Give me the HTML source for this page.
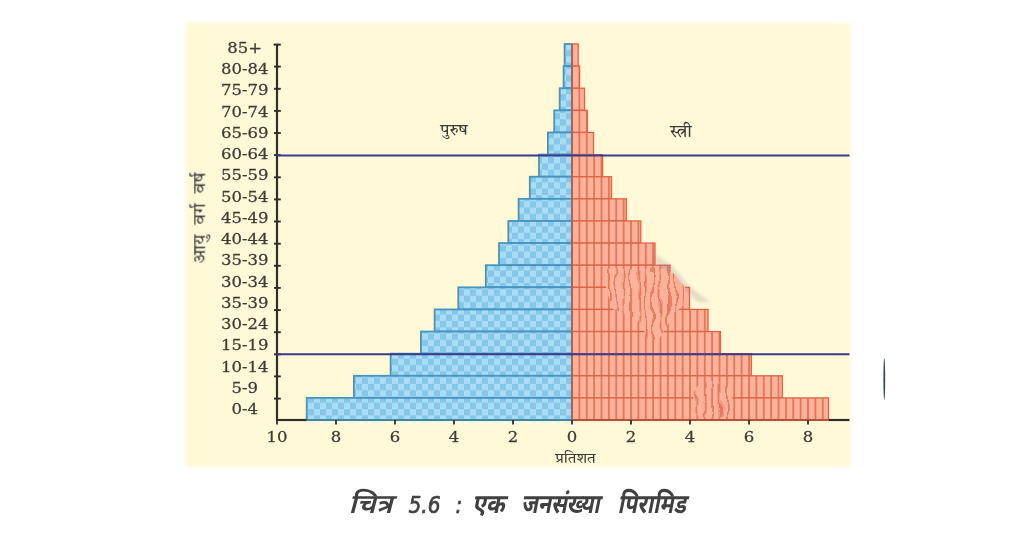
<!DOCTYPE html>
<html lang="hi"><head><meta charset="utf-8"><title>चित्र 5.6 : एक जनसंख्या पिरामिड</title>
<style>
html,body{margin:0;padding:0;background:#fff;}
body{width:1024px;height:538px;overflow:hidden;position:relative;}
svg{position:absolute;left:0;top:0;display:block;}
.num{font-family:"DejaVu Serif","Liberation Serif",serif;font-size:14.6px;fill:#3d3b36;text-anchor:middle;stroke:#3d3b36;stroke-width:0.25px;}
.hi{font-family:"Liberation Serif","Tiro Devanagari Hindi","Noto Serif Devanagari","Lohit Devanagari","Noto Sans Devanagari",serif;fill:#3a3a38;}
.cap{font-family:"Liberation Sans","Noto Sans Devanagari","Lohit Devanagari",sans-serif;fill:#404040;font-style:italic;}
.capd{font-family:"Liberation Sans","Noto Sans Devanagari","Lohit Devanagari",sans-serif;}
.capl{font-family:"DejaVu Sans","Liberation Sans",sans-serif;stroke:#404040;stroke-width:0.7px;}
</style></head><body>
<svg width="1024" height="538" viewBox="0 0 1024 538">
<defs>
<pattern id="chk" x="572" y="43.7" width="12" height="12.6" patternUnits="userSpaceOnUse">
<rect width="12" height="12.6" fill="#a9dcf7"/>
<rect x="0" y="0" width="6" height="6.3" fill="#86c6e6"/>
<rect x="6" y="6.3" width="6" height="6.3" fill="#86c6e6"/>
</pattern>
<pattern id="str" x="572" y="0" width="7.375" height="40" patternUnits="userSpaceOnUse">
<rect width="7.375" height="40" fill="#fbb29a"/>
<rect x="-0.7" y="0" width="1.4" height="40" fill="#dd6446"/>
<rect x="6.675" y="0" width="1.4" height="40" fill="#dd6446"/>
</pattern>
<filter id="soft" x="-5%" y="-5%" width="110%" height="110%"><feGaussianBlur stdDeviation="0.55"/></filter>
<filter id="soft2" x="-5%" y="-5%" width="110%" height="110%"><feGaussianBlur stdDeviation="1.7"/></filter>
<filter id="wob" x="-10%" y="-10%" width="120%" height="120%"><feTurbulence type="fractalNoise" baseFrequency="0.09 0.045" numOctaves="2" seed="3" result="n"/><feDisplacementMap in="SourceGraphic" in2="n" scale="10" xChannelSelector="R" yChannelSelector="G"/><feGaussianBlur stdDeviation="0.5"/></filter>
<clipPath id="b1"><path d="M603.4,269 L624.6,267.9 L638,271.3 L653.7,266.8 L673.8,273.5 L684.9,286.9 L683.8,304.7 L673.8,313.7 L664.8,329.3 L658.1,340.4 L647,338.2 L642.5,324.8 L631.3,315.9 L613.5,309.2 L606.8,291.3 Z"/></clipPath>
<clipPath id="b2"><path d="M694,392 L700,383 L712,381 L722,384 L731,390 L733,404 L729,416 L716,418 L700,417 L692,410 Z"/></clipPath>
</defs>
<rect x="185.2" y="22.6" width="665.2" height="444.2" fill="#fff9d8" filter="url(#soft2)"/>
<g filter="url(#soft)">

<rect x="564.6" y="44.00" width="7.4" height="22.12" fill="url(#chk)" stroke="#4595be" stroke-width="1.8"/>
<rect x="563.6" y="66.12" width="8.4" height="22.12" fill="url(#chk)" stroke="#4595be" stroke-width="1.8"/>
<rect x="559.7" y="88.24" width="12.3" height="22.12" fill="url(#chk)" stroke="#4595be" stroke-width="1.8"/>
<rect x="554.2" y="110.36" width="17.8" height="22.12" fill="url(#chk)" stroke="#4595be" stroke-width="1.8"/>
<rect x="547.9" y="132.48" width="24.1" height="22.12" fill="url(#chk)" stroke="#4595be" stroke-width="1.8"/>
<rect x="539.0" y="154.60" width="33.0" height="22.12" fill="url(#chk)" stroke="#4595be" stroke-width="1.8"/>
<rect x="529.8" y="176.72" width="42.2" height="22.12" fill="url(#chk)" stroke="#4595be" stroke-width="1.8"/>
<rect x="518.6" y="198.84" width="53.4" height="22.12" fill="url(#chk)" stroke="#4595be" stroke-width="1.8"/>
<rect x="508.3" y="220.96" width="63.7" height="22.12" fill="url(#chk)" stroke="#4595be" stroke-width="1.8"/>
<rect x="499.0" y="243.08" width="73.0" height="22.12" fill="url(#chk)" stroke="#4595be" stroke-width="1.8"/>
<rect x="485.8" y="265.20" width="86.2" height="22.12" fill="url(#chk)" stroke="#4595be" stroke-width="1.8"/>
<rect x="458.3" y="287.32" width="113.7" height="22.12" fill="url(#chk)" stroke="#4595be" stroke-width="1.8"/>
<rect x="434.6" y="309.44" width="137.4" height="22.12" fill="url(#chk)" stroke="#4595be" stroke-width="1.8"/>
<rect x="420.9" y="331.56" width="151.1" height="22.12" fill="url(#chk)" stroke="#4595be" stroke-width="1.8"/>
<rect x="390.6" y="353.68" width="181.4" height="22.12" fill="url(#chk)" stroke="#4595be" stroke-width="1.8"/>
<rect x="353.9" y="375.80" width="218.1" height="22.12" fill="url(#chk)" stroke="#4595be" stroke-width="1.8"/>
<rect x="306.7" y="397.92" width="265.3" height="22.12" fill="url(#chk)" stroke="#4595be" stroke-width="1.8"/>
<rect x="572" y="44.00" width="6.2" height="22.12" fill="url(#str)" stroke="#dc6446" stroke-width="1.3"/>
<rect x="572" y="66.12" width="7.6" height="22.12" fill="url(#str)" stroke="#dc6446" stroke-width="1.3"/>
<rect x="572" y="88.24" width="12.5" height="22.12" fill="url(#str)" stroke="#dc6446" stroke-width="1.3"/>
<rect x="572" y="110.36" width="15.4" height="22.12" fill="url(#str)" stroke="#dc6446" stroke-width="1.3"/>
<rect x="572" y="132.48" width="21.5" height="22.12" fill="url(#str)" stroke="#dc6446" stroke-width="1.3"/>
<rect x="572" y="154.60" width="30.6" height="22.12" fill="url(#str)" stroke="#dc6446" stroke-width="1.3"/>
<rect x="572" y="176.72" width="39.5" height="22.12" fill="url(#str)" stroke="#dc6446" stroke-width="1.3"/>
<rect x="572" y="198.84" width="54.3" height="22.12" fill="url(#str)" stroke="#dc6446" stroke-width="1.3"/>
<rect x="572" y="220.96" width="68.8" height="22.12" fill="url(#str)" stroke="#dc6446" stroke-width="1.3"/>
<rect x="572" y="243.08" width="83.0" height="22.12" fill="url(#str)" stroke="#dc6446" stroke-width="1.3"/>
<rect x="572" y="265.20" width="98.0" height="22.12" fill="url(#str)" stroke="#dc6446" stroke-width="1.3"/>
<rect x="572" y="287.32" width="117.5" height="22.12" fill="url(#str)" stroke="#dc6446" stroke-width="1.3"/>
<rect x="572" y="309.44" width="136.0" height="22.12" fill="url(#str)" stroke="#dc6446" stroke-width="1.3"/>
<rect x="572" y="331.56" width="148.4" height="22.12" fill="url(#str)" stroke="#dc6446" stroke-width="1.3"/>
<rect x="572" y="353.68" width="179.3" height="22.12" fill="url(#str)" stroke="#dc6446" stroke-width="1.3"/>
<rect x="572" y="375.80" width="210.3" height="22.12" fill="url(#str)" stroke="#dc6446" stroke-width="1.3"/>
<rect x="572" y="397.92" width="256.5" height="22.12" fill="url(#str)" stroke="#dc6446" stroke-width="1.3"/>
<polygon points="655,254 672,266 691,288 710,302 698,302 687,292 668,272 655,264" fill="#8a8a8a" opacity="0.25" filter="url(#soft2)"/>
<g clip-path="url(#b1)"><rect x="598" y="262" width="92" height="84" fill="#fbb9a3"/><rect x="590" y="255" width="110" height="100" fill="url(#str)" opacity="0.95" filter="url(#wob)"/></g>
<g clip-path="url(#b2)"><rect x="688" y="378" width="50" height="44" fill="#fbb9a3"/><rect x="680" y="370" width="66" height="60" fill="url(#str)" opacity="0.95" filter="url(#wob)"/></g>
<line x1="572" y1="44.0" x2="572" y2="420.0" stroke="#c9583f" stroke-width="2"/>
<line x1="277" y1="44" x2="277" y2="421.0" stroke="#2e2e2c" stroke-width="2.2"/>
<line x1="273.6" y1="44.6" x2="280.8" y2="44.6" stroke="#2e2e2c" stroke-width="2"/>
<line x1="276" y1="420.0" x2="306.7" y2="420.0" stroke="#2e2e2c" stroke-width="2.2"/>
<line x1="828.5" y1="420.0" x2="849.5" y2="420.0" stroke="#2e2e2c" stroke-width="2.2"/>
<line x1="306.7" y1="420.0" x2="572" y2="420.0" stroke="#3f86a8" stroke-width="2.2"/>
<line x1="572" y1="420.0" x2="828.5" y2="420.0" stroke="#b85038" stroke-width="2.2"/>
<line x1="274" y1="66.6" x2="280.8" y2="66.6" stroke="#2e2e2c" stroke-width="1.9"/>
<line x1="274" y1="88.8" x2="280.8" y2="88.8" stroke="#2e2e2c" stroke-width="1.9"/>
<line x1="274" y1="110.9" x2="280.8" y2="110.9" stroke="#2e2e2c" stroke-width="1.9"/>
<line x1="274" y1="133.0" x2="280.8" y2="133.0" stroke="#2e2e2c" stroke-width="1.9"/>
<line x1="274" y1="155.1" x2="280.8" y2="155.1" stroke="#2e2e2c" stroke-width="1.9"/>
<line x1="274" y1="177.3" x2="280.8" y2="177.3" stroke="#2e2e2c" stroke-width="1.9"/>
<line x1="274" y1="199.4" x2="280.8" y2="199.4" stroke="#2e2e2c" stroke-width="1.9"/>
<line x1="274" y1="221.5" x2="280.8" y2="221.5" stroke="#2e2e2c" stroke-width="1.9"/>
<line x1="274" y1="243.7" x2="280.8" y2="243.7" stroke="#2e2e2c" stroke-width="1.9"/>
<line x1="274" y1="265.8" x2="280.8" y2="265.8" stroke="#2e2e2c" stroke-width="1.9"/>
<line x1="274" y1="287.9" x2="280.8" y2="287.9" stroke="#2e2e2c" stroke-width="1.9"/>
<line x1="274" y1="310.1" x2="280.8" y2="310.1" stroke="#2e2e2c" stroke-width="1.9"/>
<line x1="274" y1="332.2" x2="280.8" y2="332.2" stroke="#2e2e2c" stroke-width="1.9"/>
<line x1="274" y1="354.3" x2="280.8" y2="354.3" stroke="#2e2e2c" stroke-width="1.9"/>
<line x1="274" y1="376.4" x2="280.8" y2="376.4" stroke="#2e2e2c" stroke-width="1.9"/>
<line x1="274" y1="398.6" x2="280.8" y2="398.6" stroke="#2e2e2c" stroke-width="1.9"/>
<line x1="277.0" y1="420.0" x2="277.0" y2="424.5" stroke="#2e2e2c" stroke-width="1.8"/>
<line x1="336.0" y1="420.0" x2="336.0" y2="424.5" stroke="#2e2e2c" stroke-width="1.8"/>
<line x1="395.0" y1="420.0" x2="395.0" y2="424.5" stroke="#2e2e2c" stroke-width="1.8"/>
<line x1="454.0" y1="420.0" x2="454.0" y2="424.5" stroke="#2e2e2c" stroke-width="1.8"/>
<line x1="513.0" y1="420.0" x2="513.0" y2="424.5" stroke="#2e2e2c" stroke-width="1.8"/>
<line x1="572.0" y1="420.0" x2="572.0" y2="424.5" stroke="#2e2e2c" stroke-width="1.8"/>
<line x1="631.0" y1="420.0" x2="631.0" y2="424.5" stroke="#2e2e2c" stroke-width="1.8"/>
<line x1="690.0" y1="420.0" x2="690.0" y2="424.5" stroke="#2e2e2c" stroke-width="1.8"/>
<line x1="749.0" y1="420.0" x2="749.0" y2="424.5" stroke="#2e2e2c" stroke-width="1.8"/>
<line x1="808.0" y1="420.0" x2="808.0" y2="424.5" stroke="#2e2e2c" stroke-width="1.8"/>
<line x1="277" y1="155.4" x2="849.5" y2="155.4" stroke="#3a3a8e" stroke-width="2"/>
<line x1="277" y1="354.3" x2="849.5" y2="354.3" stroke="#3a3a8e" stroke-width="2"/>
<text class="num" transform="translate(244.7,52.8) scale(1.13,1)">85+</text>
<text class="num" transform="translate(244.7,74.1) scale(1.13,1)">80-84</text>
<text class="num" transform="translate(244.7,95.3) scale(1.13,1)">75-79</text>
<text class="num" transform="translate(244.7,116.6) scale(1.13,1)">70-74</text>
<text class="num" transform="translate(244.7,137.8) scale(1.13,1)">65-69</text>
<text class="num" transform="translate(244.7,159.1) scale(1.13,1)">60-64</text>
<text class="num" transform="translate(244.7,180.4) scale(1.13,1)">55-59</text>
<text class="num" transform="translate(244.7,201.6) scale(1.13,1)">50-54</text>
<text class="num" transform="translate(244.7,222.9) scale(1.13,1)">45-49</text>
<text class="num" transform="translate(244.7,244.1) scale(1.13,1)">40-44</text>
<text class="num" transform="translate(244.7,265.4) scale(1.13,1)">35-39</text>
<text class="num" transform="translate(244.7,286.7) scale(1.13,1)">30-34</text>
<text class="num" transform="translate(244.7,307.9) scale(1.13,1)">35-39</text>
<text class="num" transform="translate(244.7,329.2) scale(1.13,1)">30-24</text>
<text class="num" transform="translate(244.7,350.4) scale(1.13,1)">15-19</text>
<text class="num" transform="translate(244.7,371.7) scale(1.13,1)">10-14</text>
<text class="num" transform="translate(244.7,393.0) scale(1.13,1)">5-9</text>
<text class="num" transform="translate(244.7,414.2) scale(1.13,1)">0-4</text>
<text class="num" transform="translate(277.0,441.8) scale(1.13,1)">10</text>
<text class="num" transform="translate(336.0,441.8) scale(1.13,1)">8</text>
<text class="num" transform="translate(395.0,441.8) scale(1.13,1)">6</text>
<text class="num" transform="translate(454.0,441.8) scale(1.13,1)">4</text>
<text class="num" transform="translate(513.0,441.8) scale(1.13,1)">2</text>
<text class="num" transform="translate(572.0,441.8) scale(1.13,1)">0</text>
<text class="num" transform="translate(631.0,441.8) scale(1.13,1)">2</text>
<text class="num" transform="translate(690.0,441.8) scale(1.13,1)">4</text>
<text class="num" transform="translate(749.0,441.8) scale(1.13,1)">6</text>
<text class="num" transform="translate(808.0,441.8) scale(1.13,1)">8</text>
<text class="hi" x="454" y="135" font-size="16.5" text-anchor="middle">पुरुष</text>
<text class="hi" x="681" y="136.5" font-size="17" text-anchor="middle">स्त्री</text>
<text class="hi" x="575.5" y="463" font-size="15" text-anchor="middle">प्रतिशत</text>
<text class="hi" transform="translate(205.3,217.7) rotate(-90)" font-size="17.5" text-anchor="middle" word-spacing="5" letter-spacing="0.4">आयु वर्ग वर्ष</text>
</g>
<ellipse cx="884.3" cy="379" rx="0.9" ry="21" fill="#3b4a50" filter="url(#soft)"/>
<text class="cap capd" transform="translate(348.5,513) scale(1.06,1)" font-size="27" font-weight="600" filter="url(#soft)">चित्र</text>
<text class="cap capl" transform="translate(408.5,513) scale(0.86,1)" font-size="23.5" font-weight="400" filter="url(#soft)">5.6</text>
<text class="cap capl" transform="translate(455.5,513) scale(0.86,1)" font-size="23.5" font-weight="400" filter="url(#soft)">:</text>
<text class="cap capd" transform="translate(472,513) scale(0.84,1)" font-size="27" font-weight="700" filter="url(#soft)">एक</text>
<text class="cap capd" transform="translate(521,513) scale(0.79,1)" font-size="27" font-weight="700" filter="url(#soft)">जनसंख्या</text>
<text class="cap capd" transform="translate(617.5,513) scale(0.8,1)" font-size="27" font-weight="700" filter="url(#soft)">पिरामिड</text>
</svg></body></html>
